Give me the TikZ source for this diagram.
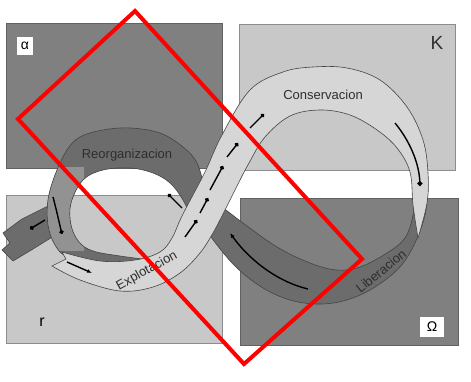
\documentclass[tikz,border=0pt]{standalone}
\usepackage{fontspec}
\setmainfont{Liberation Sans}
\usetikzlibrary{arrows.meta}
\definecolor{darkbox}{HTML}{808080}
\definecolor{lightbox}{HTML}{C8C8C8}
\definecolor{bandD}{HTML}{6C6C6C}
\definecolor{bandDL}{HTML}{929292}
\definecolor{bandL}{HTML}{D6D6D6}
\definecolor{edgec}{HTML}{454545}
\definecolor{txt}{HTML}{2E2E2E}
\begin{document}
\begin{tikzpicture}[x=1pt,y=-1pt,
  dbox/.style={fill=darkbox, draw=black!62, line width=0.8pt},
  lbox/.style={fill=lightbox, draw=black!45, line width=0.8pt},
  band/.style={draw=edgec, line width=0.6pt},
  blk/.style={line width=1.4pt, black},
  lbl/.style={font=\fontsize{13}{13}\selectfont, text=txt, inner sep=0pt},
  greek/.style={fill=white, inner sep=0pt, text=black, font=\fontsize{14}{14}\selectfont},
  redbox/.style={draw=red, line width=4pt, line join=miter}]
\useasboundingbox (0,0) rectangle (471,382);
\fill[white] (0,0) rectangle (471,382);
% quadrant boxes
\path[dbox] (6,23) rectangle (222,168);
\path[lbox] (239,24) rectangle (455,170);
\path[lbox] (6,195) rectangle (222,343);
\path[dbox] (240,198) rectangle (458,345);
% liberation band
\path[band, fill=bandD] plot[smooth,tension=0.6] coordinates {(428,185) (425,215) (413,247) (397,270) (370,290) (343,301) (317,304) (290,300) (263,288) (237,268) (217,245) (205,228)} -- (212,203) -- plot[smooth,tension=0.6] coordinates {(212,203) (223,208) (243,223) (277,247) (310,263) (337,270) (360,267) (387,253) (405,238) (413,215) (414,190)} -- cycle;
% exit arrow (left)
\path[band, fill=bandD] (52,204) -- (22,219) -- (3,233) -- (10,243) -- (2,250) -- (13,261) -- (33,249) -- (54,236) -- cycle;
% reorganization loop
\def\reorgpath{plot[smooth, tension=0.6] coordinates {(212,218) (205,190) (197,163) (183,147) (160,133) (130,128) (103,130) (80,137) (67,150) (55,175) (48,200) (48,225) (55,245) (68,257) (100,262) (150,260)} -- plot[smooth,tension=0.6] coordinates {(150,260) (120,256) (93,251) (79,242) (71,225) (71,203) (83,180) (103,170) (130,168) (153,173) (170,183) (183,200) (195,225)} -- cycle}
\fill[bandD] \reorgpath;
\begin{scope}
\clip (0,168) rectangle (84,250);
\fill[bandDL] \reorgpath;
\end{scope}
\draw[band] \reorgpath;
% exploitation / conservation band
\path[band, fill=bandL] plot[smooth,tension=0.6] coordinates {(62,252) (100,261) (135,260) (160,252) (172,238) (181,218) (194,193) (206,170) (222,135) (250,90) (283,72) (313,67) (347,68) (380,80) (407,107) (423,140) (428,173) (427,203) (418,238)} -- plot[smooth,tension=0.6] coordinates {(418,238) (413,205) (410,172) (397,148) (377,130) (350,115) (320,110) (290,116) (265,137) (249,163) (236,188) (224,212) (213,233) (200,253) (180,273) (153,287) (120,291) (80,280) (52,266)} -- (66,259) -- cycle;
% black flow arrows
\draw[blk, -{Circle[length=5pt]}] (395,123) .. controls (409,140) and (419,162) .. (420,186);
\foreach \xa/\ya/\xb/\yb in {185/237/197/220, 200/213/208/198, 210/190/223/166, 227/157/238/143, 250/128/264/114}
  \draw[blk, -{Circle[length=4.2pt]}] (\xa,\ya) -- (\xb,\yb);
\draw[blk, -{Circle[length=4.2pt]}] (182,208) -- (168,194);
\draw[blk, -{Latex[length=5pt,width=4pt]}] (308,289) .. controls (275,281) and (248,258) .. (230,233);
\draw[blk, -{Circle[length=4.2pt]}] (53,197) .. controls (57,212) and (59,222) .. (62,234);
\draw[blk, -{Circle[length=4.2pt]}] (45,220) -- (30,229);
\draw[blk, -{Latex[length=5pt,width=4pt]}] (67,262) -- (92,273);
% phase labels
\node[lbl] (reorg) at (127,155) {Reorganizacion};
\node[lbl] (cons) at (323,95) {Conservacion};
\node[lbl, rotate=29] (expl) at (147,271) {Explotacion};
\node[lbl, rotate=39] (lib) at (381,271) {Liberacion};
% corner labels
\node[greek, minimum width=16pt, minimum height=18pt] (alpha) at (25,46) {α};
\node[text=txt, inner sep=0pt, font=\fontsize{19}{19}\selectfont] (kappa) at (437,43) {K};
\node[text=black, inner sep=0pt, font=\fontsize{16}{16}\selectfont] (rr) at (42,322) {r};
\node[greek, minimum width=24pt, minimum height=20pt] (omega) at (432,327) {Ω};
% red frame
\draw[redbox] (135,11) -- (18,119) -- (244,364) -- (362,259) -- cycle;
\end{tikzpicture}
\end{document}
